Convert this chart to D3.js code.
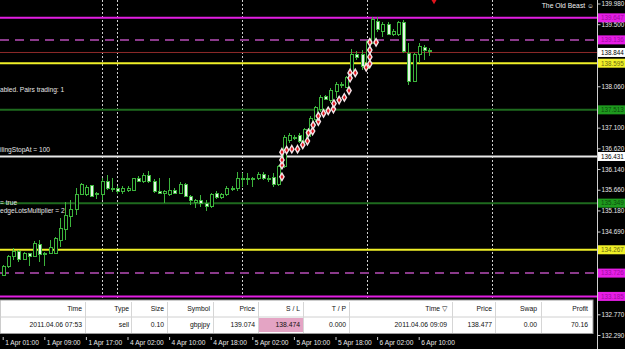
<!DOCTYPE html>
<html><head><meta charset="utf-8">
<script src="https://cdn.jsdelivr.net/npm/d3@7"></script>
<style>html,body{margin:0;padding:0;background:#000;overflow:hidden}svg{display:block}</style>
</head><body>
<svg id="c" width="625" height="349"></svg>
<script>
// ---- DATA ----
const opens  = [133.68,133.89,134.10,134.22,134.05,134.17,134.12,134.40,134.15,134.19,134.19,134.49,134.73,135.05,135.19,135.56,135.54,135.75,135.58,135.54,135.84,135.70,135.70,135.61,135.65,135.65,135.91,135.84,135.98,135.86,135.61,135.58,135.54,135.65,135.58,135.79,135.51,135.37,135.40,135.33,135.26,135.58,135.47,135.54,135.68,135.68,135.89,135.91,135.91,135.91,136.02,135.91,135.95,135.77,136.19,136.81,136.84,136.91,136.77,136.98,137.28,137.51,137.83,137.74,137.93,138.07,138.04,138.37,138.79,138.79,138.48,139.06,139.57,139.34,139.50,139.27,139.25,139.55,138.83,138.18,138.79,138.97,138.86];
const highs  = [133.91,134.15,134.31,134.26,134.22,134.19,134.47,134.49,134.22,134.49,134.56,135.00,135.37,135.42,135.70,135.82,135.77,135.77,135.61,135.93,136.00,135.93,135.75,135.75,135.75,135.93,135.98,136.05,136.09,135.91,135.93,135.65,135.93,135.70,135.84,135.82,135.54,135.44,135.54,135.42,135.58,135.63,135.58,135.75,135.75,136.07,136.05,136.05,135.95,136.07,136.07,136.00,136.05,136.23,136.93,136.98,136.93,136.98,137.09,137.37,137.60,137.86,137.86,138.02,138.16,138.16,138.30,138.92,138.88,138.90,139.13,139.67,139.67,139.55,139.55,139.39,139.57,139.60,139.06,138.83,139.06,139.02,138.95];
const lows   = [133.66,133.84,134.03,133.98,134.03,133.89,134.10,133.98,133.89,134.17,134.17,134.33,134.49,134.79,135.07,135.54,135.51,135.49,135.44,135.42,135.65,135.61,135.56,135.56,135.61,135.63,135.84,135.82,135.82,135.58,135.56,135.35,135.51,135.56,135.56,135.49,135.31,135.24,135.26,135.17,135.24,135.44,135.44,135.51,135.63,135.63,135.72,135.77,135.72,135.89,135.89,135.84,135.72,135.75,136.16,136.74,136.81,136.74,136.74,136.88,137.23,137.46,137.74,137.67,137.79,138.02,138.02,138.32,138.67,138.44,138.44,139.04,139.32,139.20,139.25,139.23,139.23,138.83,138.09,138.16,138.60,138.67,138.76];
const closes = [133.89,134.10,134.22,134.05,134.19,134.12,134.42,134.15,134.19,134.31,134.52,134.75,135.07,135.21,135.56,135.79,135.72,135.51,135.54,135.84,135.70,135.68,135.61,135.68,135.70,135.91,135.84,136.00,135.86,135.61,135.58,135.61,135.65,135.58,135.79,135.51,135.40,135.42,135.35,135.26,135.56,135.47,135.54,135.70,135.70,135.91,135.93,135.93,135.93,136.02,135.91,135.93,135.77,136.19,136.88,136.91,136.88,136.77,137.05,137.32,137.56,137.81,137.76,137.97,138.11,138.11,138.27,138.79,138.72,138.51,139.09,139.60,139.37,139.50,139.27,139.32,139.55,138.86,138.18,138.79,138.99,138.90,138.90];

// order arrows: bar position and price
const markerBars   = [53.7,53.7,53.7,53.7,54.6,55.6,56.7,57.7,58.6,58.8,59.6,59.7,60.7,60.7,61.7,62.6,63.6,63.7,64.7,65.7,66.6,66.8,67.8,66.8,69.9,70.6,71.8,70.6,70.6,70.6];
const markerPrices = [135.96,136.23,136.35,136.53,136.58,136.60,136.60,136.70,136.79,136.98,137.02,137.16,137.24,137.37,137.43,137.49,137.53,137.66,137.74,137.80,137.96,138.37,138.37,138.25,138.50,139.08,139.08,138.90,138.74,138.58];

// horizontal levels
const levelValues = [139.647,139.136,138.844,138.595,137.513,136.431,135.349,134.267,133.726,133.185];
const levelKinds  = ["magenta","purpleDash","bid","yellow","green","white","green","yellow","purpleDash","magenta"];

const priceTicks = [139.980,139.500,138.060,137.100,136.620,136.140,135.660,135.180,134.690,132.770,132.290];
const timeTickBars = [0,8,16,24,32,40,48,56,64,72,80];
const timeTickLabels = ["1 Apr 01:00","1 Apr 09:00","1 Apr 17:00","4 Apr 02:00","4 Apr 10:00","4 Apr 18:00","5 Apr 02:00","5 Apr 10:00","5 Apr 18:00","6 Apr 02:00","6 Apr 10:00"];
const separatorBars = [19,22,46,70,94];

const infoLines = ["abled. Pairs trading: 1","ilingStopAt = 100","= true","edgeLotsMultiplier = 2"];
const infoPrices = [137.99,136.58,135.36,135.17];

const tableHeaders = ["Time","Type","Size","Symbol","Price","S / L","T / P","Time  \u25BD","Price","Swap","Profit"];
const tableRow = ["2011.04.06 07:53","sell","0.10","gbpjpy","139.074","138.474","0.000","2011.04.06 09:09","138.477","0.00","70.16"];

// ---- DRAW ----
const svg = d3.select("#c");
const W = 625, H = 349, axisX = 597;
svg.append("rect").attr("width",W).attr("height",H).attr("fill","#000");

const x = d3.scaleLinear().domain([0,100]).range([2.7,522.7]);
const y = d3.scaleLinear().domain([132.29,139.98]).range([335.0,3.5]);

const font = "'Liberation Sans', Arial, sans-serif";

// period separators
svg.append("g").selectAll("line").data(separatorBars).join("line")
  .attr("x1",d=>Math.round(x(d))+0.5).attr("x2",d=>Math.round(x(d))+0.5)
  .attr("y1",0).attr("y2",336)
  .attr("stroke","#cfcfcf").attr("stroke-width",1).attr("stroke-dasharray","2,2");

// levels
const lvlStyle = {
  magenta:{stroke:"#e21ee2",w:2,dash:null,box:"#e61ee6",txt:"#a00aa0"},
  purpleDash:{stroke:"#8a3a8a",w:2,dash:"9,6",box:"#e61ee6",txt:"#a00aa0"},
  bid:{stroke:"#8e2a2a",w:1,dash:null,box:"#ffffff",txt:"#000"},
  yellow:{stroke:"#f0f028",w:2,dash:null,box:"#f0f028",txt:"#6a6a10"},
  green:{stroke:"#1e6a1e",w:2,dash:null,box:"#1e9a1e",txt:"#0c4a0c"},
  white:{stroke:"#e8e8e8",w:2,dash:null,box:"#ffffff",txt:"#000"}
};
const levels = levelValues.map((v,i)=>({v,k:levelKinds[i]}));
svg.append("g").selectAll("line").data(levels).join("line")
  .attr("x1",0).attr("x2",axisX)
  .attr("y1",d=>y(d.v)).attr("y2",d=>y(d.v))
  .attr("stroke",d=>lvlStyle[d.k].stroke)
  .attr("stroke-width",d=>lvlStyle[d.k].w)
  .attr("stroke-dasharray",d=>lvlStyle[d.k].dash);

// info texts
svg.append("g").selectAll("text").data(infoLines).join("text")
  .attr("x",0).attr("y",(d,i)=>y(infoPrices[i])+2.3)
  .attr("fill","#e6e6e6").attr("font-family",font).attr("font-size",6.6)
  .text(d=>d);

// candles
const bars = opens.map((o,i)=>({i,o,h:highs[i],l:lows[i],c:closes[i]}));
const cg = svg.append("g").attr("shape-rendering","crispEdges");
const green = "#3cb43c";
cg.selectAll("line").data(bars).join("line")
  .attr("x1",d=>Math.round(x(d.i))+0.5).attr("x2",d=>Math.round(x(d.i))+0.5)
  .attr("y1",d=>y(d.h)).attr("y2",d=>y(d.l))
  .attr("stroke",green).attr("stroke-width",1);
cg.selectAll("rect").data(bars).join("rect")
  .attr("x",d=>Math.round(x(d.i))-1)
  .attr("width",3)
  .attr("y",d=>y(Math.max(d.o,d.c)))
  .attr("height",d=>Math.max(1,Math.abs(y(d.o)-y(d.c))))
  .attr("fill",d=>d.c>=d.o?"#000":"#e6f6e6")
  .attr("stroke",green).attr("stroke-width",1);

// order markers
const markers = markerBars.map((b,i)=>({b,p:markerPrices[i]}));
const sym = d3.symbol().type(d3.symbolDiamond).size(16);
svg.append("g").selectAll("path").data(markers).join("path")
  .attr("transform",d=>`translate(${x(d.b)},${y(d.p)})`)
  .attr("d",sym).attr("fill","#e0141c").attr("stroke","#f4e4e8").attr("stroke-width",1.4);

// top arrow mark
svg.append("path").attr("d",d3.symbol().type(d3.symbolDiamond).size(22)())
  .attr("transform","translate(434,0)").attr("fill","#e0141c");

// right axis
const ra = svg.append("g").attr("transform",`translate(${axisX+0.5},0)`)
  .call(d3.axisRight(y).tickValues(priceTicks).tickFormat(d3.format(".3f")).tickSize(3).tickPadding(1));
ra.select(".domain").remove();
ra.selectAll("line").attr("stroke","#cfcfcf");
ra.selectAll("text").attr("fill","#e8e8e8").attr("font-family",font).attr("font-size",6.3);
svg.append("line").attr("x1",axisX+0.5).attr("x2",axisX+0.5).attr("y1",0).attr("y2",H)
  .attr("stroke","#cfcfcf").attr("stroke-width",1);

// level price boxes
const lb = svg.append("g").selectAll("g").data(levels).join("g")
  .attr("transform",d=>`translate(${axisX+1},${y(d.v)})`);
lb.append("rect").attr("x",0).attr("y",-4.5).attr("width",W-axisX).attr("height",9)
  .attr("fill",d=>lvlStyle[d.k].box);
lb.append("text").attr("x",3).attr("y",2.3)
  .attr("font-family",font).attr("font-size",6.3)
  .attr("fill",d=>lvlStyle[d.k].txt).text(d=>d3.format(".3f")(d.v));

// bottom time axis
const ta = svg.append("g").attr("transform","translate(0,337)")
  .call(d3.axisBottom(x).tickValues(timeTickBars).tickFormat((d,i)=>timeTickLabels[i]).tickSize(3).tickSizeOuter(0));
ta.select(".domain").remove();
ta.selectAll("line").attr("stroke","#cfcfcf");
ta.selectAll("text").attr("fill","#e8e8e8").attr("font-family",font).attr("font-size",6.6)
  .attr("text-anchor","start").attr("dx",2).attr("y",3).attr("dy","0.71em");

// trade table
const tb = svg.append("g").attr("font-family",font).attr("font-size",6.8);
const tX = 0, tY = 300, tW = 593, rowH = 16.5;
tb.append("rect").attr("x",tX).attr("y",tY).attr("width",tW).attr("height",33.5)
  .attr("fill","#fff").attr("stroke","#9a9a9a").attr("stroke-width",1);
const colRight = [82,129,164,210,255,300,346,447,492,537,588];
const colDiv = [85,131,167,213,258,303,349,452,495,541];
tb.append("rect").attr("x",259).attr("y",tY+rowH+1.5).attr("width",44).attr("height",rowH-2.5).attr("fill","#e4a4c4");
tb.append("line").attr("x1",tX).attr("x2",tW).attr("y1",tY+rowH+0.5).attr("y2",tY+rowH+0.5).attr("stroke","#d0d0d0");
tb.selectAll("line.div").data(colDiv).join("line").attr("class","div")
  .attr("x1",d=>d+0.5).attr("x2",d=>d+0.5).attr("y1",tY+2).attr("y2",tY+33)
  .attr("stroke","#d6d6d6");
tb.selectAll("text.h").data(tableHeaders).join("text").attr("class","h")
  .attr("x",(d,i)=>colRight[i]).attr("y",tY+11).attr("text-anchor","end").attr("fill","#111").text(d=>d);
tb.selectAll("text.r").data(tableRow).join("text").attr("class","r")
  .attr("x",(d,i)=>colRight[i]).attr("y",tY+rowH+10.5).attr("text-anchor","end").attr("fill","#111").text(d=>d);

// watermark
svg.append("text").attr("x",594).attr("y",8).attr("fill","#f0f0f0").attr("text-anchor","end")
  .attr("font-family",font).attr("font-size",6.8).text("The Old Beast \u263A");
</script>
</body></html>
